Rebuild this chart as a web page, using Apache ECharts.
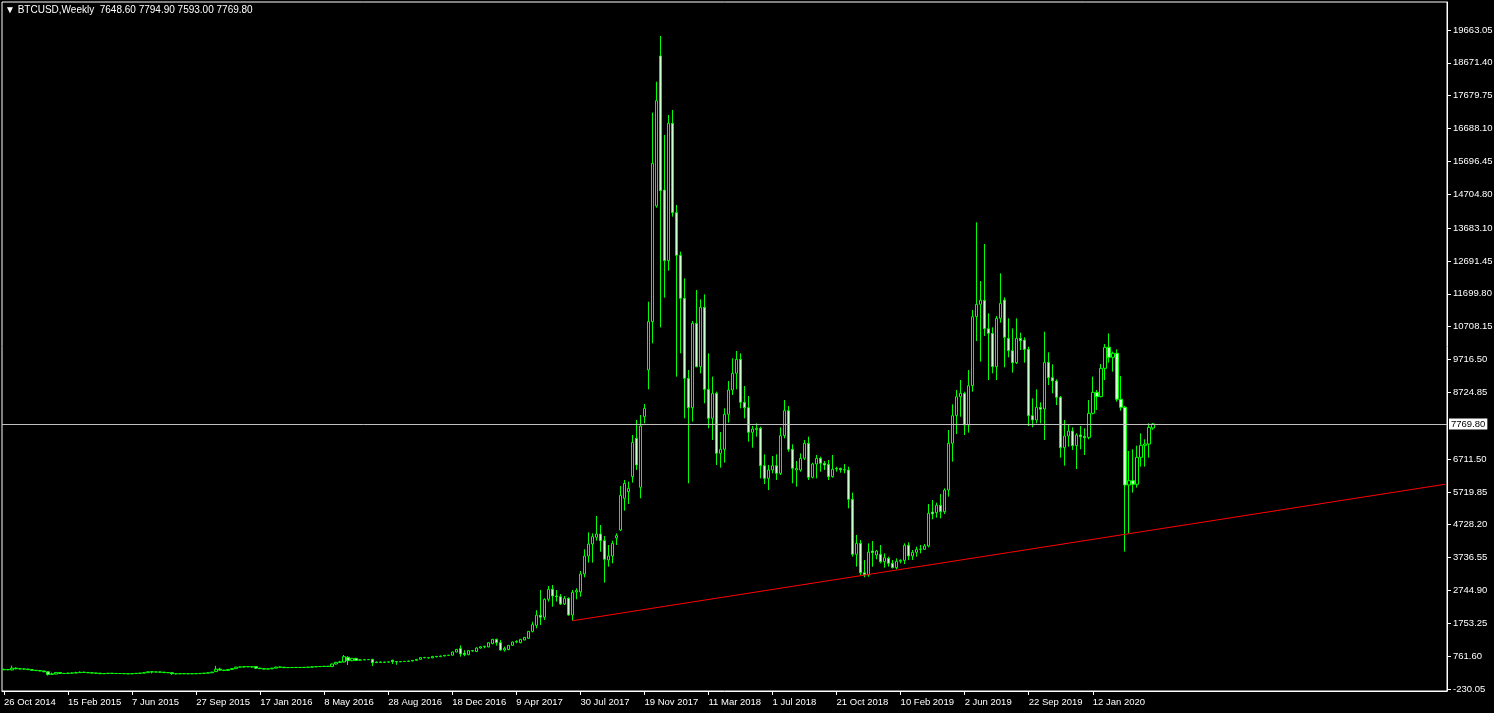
<!DOCTYPE html>
<html>
<head>
<meta charset="utf-8">
<script src="https://cdn.jsdelivr.net/npm/echarts@6/dist/echarts.min.js"></script>
<style>
html,body{margin:0;padding:0;background:#000;}
#chart{width:1494px;height:713px;}
</style>
</head>
<body>
<div id="chart"></div>
<script>
// ---- DATA (weekly BTCUSD, from 26 Oct 2014) ----
const symbolName = 'BTCUSD,Weekly';
const startDate = Date.UTC(2014, 9, 26);
const totalSlots = 361; // bars + empty right shift area
const tickLabels = ['26 Oct 2014','15 Feb 2015','7 Jun 2015','27 Sep 2015','17 Jan 2016','8 May 2016','28 Aug 2016','18 Dec 2016','9 Apr 2017','30 Jul 2017','19 Nov 2017','11 Mar 2018','1 Jul 2018','21 Oct 2018','10 Feb 2019','2 Jun 2019','22 Sep 2019','12 Jan 2020'];
const priceTicks = [-230.05, 761.60, 1753.25, 2744.90, 3736.55, 4728.20, 5719.85, 6711.50, 8724.85, 9716.50, 10708.15, 11699.80, 12691.45, 13683.10, 14704.80, 15696.45, 16688.10, 17679.75, 18671.40, 19663.05];

const opens = [
360,350,345,400,380,375,372,355,335,325,
315,290,210,220,265,240,238,250,252,265,
275,270,260,250,248,232,238,245,240,238,
236,232,228,236,242,250,262,290,282,285,
278,265,262,232,228,235,232,230,232,234,
240,248,260,295,370,340,330,360,385,430,
435,445,440,450,400,385,370,378,400,432,
428,415,418,420,422,420,425,428,440,445,
450,455,445,525,570,585,726,625,695,640,
650,655,665,565,585,575,582,640,600,590,
600,605,615,635,665,720,715,710,755,745,
766,786,790,887,990,850,806,927,900,1007,
1045,1040,1140,1269,1168,947,960,1088,1188,1168,
1249,1300,1510,1690,2000,1935,2476,2779,2577,2557,
2336,2507,2004,2700,2700,3242,3785,4147,4348,4449,
4248,3664,3785,4330,4570,5525,5727,6180,7337,5858,
7991,9400,10859,14350,18878,14833,12700,16846,14149,12861,
11563,9148,8263,10808,9500,11291,8816,7941,8695,6884,
7005,8061,8796,9299,9721,8424,8262,7518,7600,7640,
6512,6129,6381,6512,6280,7417,8172,7005,6381,6381,
6733,7186,6160,6562,6733,6582,6552,6180,6410,6430,
6390,6381,5495,3835,4167,3282,3211,3935,3815,3835,
3614,3714,3563,3433,3624,3654,4107,3785,3895,3986,
3986,4087,5113,5093,5314,5123,5777,7186,8021,8594,
8695,7739,8926,11009,11381,11502,10647,10506,9500,10959,
11512,10355,9983,9620,10355,10305,10023,8021,7890,8272,
8222,9630,9168,9068,8575,7055,7407,7558,7116,7438,
7398,7367,8092,8725,8595,9450,10084,9782,9903,8514,
8273,5928,6059,5948,6763,7126,7166,7648.60];

const highs = [
385,370,475,420,395,390,380,362,345,335,
320,300,265,280,270,255,260,265,290,300,
295,280,265,262,250,245,250,252,248,245,
242,240,240,248,255,270,300,310,300,295,
285,270,268,240,240,245,240,238,238,245,
250,265,285,470,410,345,370,395,440,445,
460,460,450,455,410,395,385,410,440,445,
435,425,425,428,428,430,430,445,450,455,
462,465,530,590,620,796,760,705,705,670,
675,670,680,600,595,590,595,650,615,605,
610,620,640,670,730,740,730,760,765,775,
790,795,895,980,1088,940,930,945,1030,1060,
1070,1180,1280,1290,1250,1050,1095,1200,1240,1280,
1340,1520,1800,2150,2760,2507,2880,2909,2759,2638,
2577,2537,2759,2809,3332,3986,4499,4469,4992,4721,
4388,4117,4248,4470,5898,6079,6029,7438,7891,8041,
8374,11462,17168,18103,19482,16493,17097,17248,14381,12972,
12167,9400,10879,11815,11533,11684,9903,9199,8746,7528,
8242,9067,9751,9973,9903,8916,8615,7709,7790,7689,
6854,6532,6803,6854,7669,8494,8313,7156,6653,6884,
7286,7387,6602,6834,6784,6653,6683,6834,6482,6451,
6562,6481,5697,4419,4268,3664,4167,4238,3966,4117,
3865,3764,3664,3714,3684,4167,4197,3966,4066,4117,
4147,5354,5475,5395,5656,5827,7588,8363,8796,9097,
8745,9399,11210,13857,12086,13203,11110,10687,11029,12317,
11593,10959,10657,10959,10526,10385,10104,8544,8816,8423,
10556,9933,9571,9118,8615,7890,7740,7669,7488,7709,
7639,8494,9198,8796,9581,10185,10506,9953,10023,9219,
8313,6955,7005,7116,7488,7307,7790,7794.90];

const lows = [
340,335,335,365,365,360,350,330,320,305,
280,173,200,215,230,225,232,240,245,260,
265,255,245,240,220,222,232,235,232,230,
228,225,222,230,238,245,258,240,275,270,
260,255,200,215,222,228,225,225,228,230,
236,245,255,290,320,310,325,355,380,420,
420,435,425,370,370,365,362,372,395,420,
405,405,410,412,415,415,418,425,432,438,
440,440,440,510,555,575,494,610,620,630,
640,645,464,560,565,565,575,525,500,585,
595,600,610,630,655,700,690,700,720,735,
760,775,785,880,746,760,790,900,890,990,
1000,1030,1120,1080,930,900,940,1070,1150,1150,
1240,1290,1480,1600,1700,1853,2406,2255,2406,2306,
2306,1984,1833,2476,2557,3141,3584,3584,4248,3916,
2980,3463,3563,4117,4539,5153,5355,5999,6381,5526,
7790,8816,10205,14300,10688,11583,12398,14028,9199,9903,
7941,5979,7840,9480,9299,8394,7639,7287,6532,6451,
6602,7810,8645,8816,8242,7940,7236,7055,7387,6129,
5958,5777,6280,6079,6230,7337,6934,5978,5878,6330,
6683,6079,6129,6129,6330,6381,6079,6149,6330,6300,
6280,5224,3764,3463,3211,3141,3161,3463,3684,3563,
3433,3463,3412,3382,3563,3543,3664,3664,3764,3865,
3966,4046,4891,4942,4922,5053,5576,6632,7467,7990,
7437,7508,8745,10275,9651,10425,9097,9299,9097,10828,
9480,9782,9319,9580,10003,9620,7709,7669,7789,7789,
7286,8947,8695,8343,6753,6512,7085,6985,6411,7005,
6834,7307,8062,8192,8575,9098,9621,9349,8444,8172,
3916,4469,5697,5848,6482,6482,6753,7593.00];

const closes = [
350,360,400,380,375,372,355,335,325,315,
290,210,230,270,240,238,250,252,265,275,
270,260,250,248,232,238,245,240,238,236,
232,228,236,242,250,262,290,282,285,278,
265,262,232,228,235,232,230,232,234,240,
248,260,280,370,340,330,360,385,430,435,
445,440,435,400,385,370,378,400,432,428,
415,418,420,422,420,425,428,440,445,450,
455,452,525,575,590,746,625,695,630,650,
655,660,565,585,575,582,590,595,590,600,
605,615,635,665,720,715,710,755,745,766,
786,790,887,965,830,810,927,920,1007,1045,
1060,1168,1269,1168,947,997,1088,1188,1209,1269,
1329,1510,1712,2000,1935,2476,2779,2577,2557,2336,
2507,2004,2688,2740,3242,3785,4147,4368,4449,4248,
3684,3785,4167,4400,5616,5978,5827,7216,6532,7710,
8242,10859,15638,17530,14813,12700,16846,14149,12861,11563,
9148,8263,10808,9500,11291,8816,7941,8695,6884,7005,
8061,8796,9299,9721,8424,8262,7518,7618,7640,6512,
6129,6381,6512,6280,7417,8172,7005,6431,6431,6733,
7186,6160,6562,6733,6582,6532,6180,6401,6430,6390,
6380,5495,3835,4167,3282,3211,3905,3885,3935,3614,
3734,3563,3433,3624,3654,4107,3785,3895,3986,3996,
4087,5073,5053,5314,5123,5777,7186,8021,8594,8695,
7739,8926,11009,11381,11502,10647,10506,9500,10959,11412,
10385,9983,9620,10355,10285,10023,8021,7890,8272,8212,
9630,9168,9068,8575,7055,7407,7558,7116,7438,7388,
7358,8092,8725,8595,9450,10084,9782,9903,8514,8273,
5928,6059,5948,6763,7126,7166,7669,7769.80];

// trend line anchors: [bar index, price]
const trendStart = [142, 1830];
const trendEnd = [360, 5950];

if (opens.length !== 288 || highs.length !== 288 || lows.length !== 288 || closes.length !== 288) {
  throw new Error('len ' + opens.length + ' ' + highs.length + ' ' + lows.length + ' ' + closes.length);
}

// ---- build ----
const MON = ['Jan','Feb','Mar','Apr','May','Jun','Jul','Aug','Sep','Oct','Nov','Dec'];
const categories = [];
for (let i = 0; i < totalSlots; i++) {
  const d = new Date(startDate + i * 7 * 86400000);
  categories.push(d.getUTCDate() + ' ' + MON[d.getUTCMonth()] + ' ' + d.getUTCFullYear());
}
const candleData = opens.map((o, i) => [o, closes[i], lows[i], highs[i]]);
const last = opens.length - 1;
const lastClose = closes[last];
const titleText = '\u25BC ' + symbolName + '  ' + [opens[last], highs[last], lows[last], closes[last]].map(v => v.toFixed(2)).join(' ');

const labelShown = (idx) => idx % 16 === 0 && idx / 16 < tickLabels.length;
const FONT = 'Liberation Sans';

const chart = echarts.init(document.getElementById('chart'), null, {renderer: 'canvas'});
chart.setOption({
  backgroundColor: '#000',
  animation: false,
  title: {
    text: titleText,
    left: 5, top: 5, padding: 0,
    textStyle: {color: '#fff', fontSize: 10, fontWeight: 'normal', fontFamily: FONT}
  },
  grid: {
    left: 2, right: 47, top: 2, bottom: 22,
    containLabel: false,
    outerBoundsMode: 'none',
    show: true, borderColor: '#fff', borderWidth: 1, backgroundColor: '#000'
  },
  xAxis: {
    type: 'category',
    data: categories,
    boundaryGap: true,
    axisLine: {show: true, onZero: false, lineStyle: {color: '#fff', width: 1}},
    axisTick: {show: true, alignWithLabel: true, length: 4, interval: labelShown, lineStyle: {color: '#fff'}},
    axisLabel: {
      show: true, interval: labelShown, align: 'left', margin: 6,
      color: '#fff', fontSize: 9.5, fontFamily: FONT,
      formatter: (v, idx) => tickLabels[idx / 16]
    },
    splitLine: {show: false}
  },
  yAxis: {
    type: 'value',
    position: 'right',
    min: -290.4, max: 20508.3,
    scale: true,
    axisLine: {show: true, lineStyle: {color: '#fff', width: 1}},
    axisTick: {show: true, length: 4, customValues: priceTicks, lineStyle: {color: '#fff'}},
    axisLabel: {
      show: true, margin: 6, color: '#fff', fontSize: 9.5, fontFamily: FONT,
      customValues: priceTicks,
      formatter: v => Number(v).toFixed(2)
    },
    splitLine: {show: false}
  },
  series: [{
    type: 'candlestick',
    data: candleData,
    barWidth: 3,
    itemStyle: {
      color: '#000000', borderColor: '#00ff00',
      color0: '#ccffcc', borderColor0: '#00ff00',
      borderWidth: 1
    },
    markLine: {
      silent: true,
      symbol: ['none', 'none'],
      animation: false,
      data: [
        {
          yAxis: lastClose,
          lineStyle: {color: '#c0c0c0', width: 1, type: 'solid'},
          label: {
            show: true, position: 'end', distance: 2,
            formatter: lastClose.toFixed(2),
            color: '#000', backgroundColor: '#fff', padding: [1, 2, 0, 2],
            fontSize: 9.5, fontFamily: FONT
          }
        },
        [
          {coord: trendStart, lineStyle: {color: '#ff0000', width: 1, type: 'solid'}, label: {show: false}},
          {coord: trendEnd}
        ]
      ]
    }
  }]
});
</script>
</body>
</html>
